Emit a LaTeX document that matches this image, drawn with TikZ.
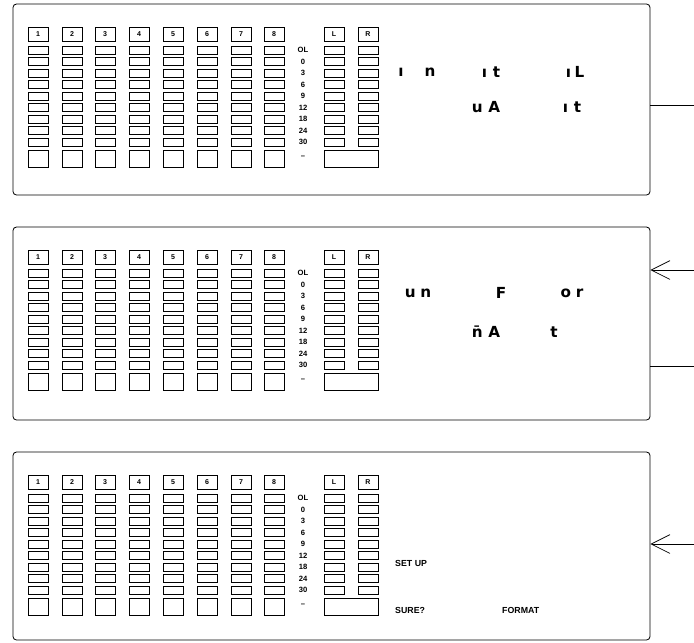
\documentclass[tikz,border=0pt]{standalone}
\usepackage{fontspec}
\setmainfont{Liberation Sans}
\newfontfamily\lcdfont{DejaVu Sans}
\usetikzlibrary{arrows.meta, positioning, calc}

% one meter bank: channels 1-8, scale, L/R
\newcommand{\meterbank}[1]{%
  \foreach \ch/\xl in {1/28, 2/62, 3/95, 4/129, 5/163, 6/197, 7/231, 8/264, L/324, R/358} {
    \node[hdr] (#1h\ch) at (\xl+10, 34) {\ch};
    \foreach \i in {0,...,8}
      \draw[seg] (\xl, 46+11.5*\i) rectangle ++(20, 8);
  }
  \foreach \xl in {28, 62, 95, 129, 163, 197, 231, 264}
    \draw[seg] (\xl, 150) rectangle ++(20, 17);
  \draw[seg] (324, 150) rectangle (378, 167);
  \foreach \lab [count=\i from 0] in {OL,0,3,6,9,12,18,24,30}
    \node[scalelab] (#1s\i) at (303, 50+11.5*\i) {\lab};
  \node[scalelab] (#1sdash) at (303, 157) {--};
}

\begin{document}
\begin{tikzpicture}[x=0.03cm, y=-0.03cm,
    panel/.style={rectangle, draw, rounded corners=3pt, line width=0.7pt, minimum width=19.11cm, inner sep=0pt},
    hdr/.style={rectangle, draw, line width=0.8pt, minimum width=0.6cm, minimum height=0.42cm, inner sep=0pt, font=\fontsize{6}{6}\selectfont\bfseries},
    seg/.style={draw, line width=0.75pt},
    scalelab/.style={inner sep=0pt, font=\fontsize{6.5}{6.5}\selectfont\bfseries},
    lcd/.style={inner sep=0pt, font=\lcdfont\fontsize{13}{13}\selectfont\bfseries},
    msg/.style={inner sep=0pt, anchor=west, font=\fontsize{7.5}{7.5}\selectfont\bfseries},
    link/.style={line width=0.6pt},
    arrow/.style={-{Straight Barb[length=16pt, width=16pt, line width=0.6pt]}, line width=0.6pt}
]
\useasboundingbox (0,0) rectangle (694,643);

% Panels
\node[panel, minimum height=5.73cm] (initpanel) at (331.5, 99.5) {};
\node[panel, minimum height=5.79cm] (fmtpanel) at (331.5, 323.5) {};
\node[panel, minimum height=5.64cm] (surepanel) at (331.5, 546) {};

% Meters
\meterbank{a}
\begin{scope}[shift={(0,223)}]
  \meterbank{b}
\end{scope}
\begin{scope}[shift={(0,448)}]
  \meterbank{c}
\end{scope}

% Display texts
\node[lcd] (inA) at (417, 72) {ı\hspace{18pt}n};
\node[lcd] (itA) at (491, 72) {ı\hspace{5pt}t};
\node[lcd] (ilA) at (575, 72) {ı\hspace{3pt}L};
\node[lcd] (uaA) at (486, 107) {u\hspace{5pt}A};
\node[lcd] (itB) at (572, 107) {ı\hspace{5pt}t};

\node[lcd] (unC) at (418, 293) {u\hspace{4pt}n};
\node[lcd] (fC) at (501, 293) {F};
\node[lcd] (orC) at (572, 293) {o\hspace{4pt}r};
\node[lcd] (maC) at (486, 332) {\=n\hspace{5pt}A};
\node[lcd] (tC) at (554, 332) {t};

\node[msg] (setup) at (395, 563) {SET UP};
\node[msg] (sure) at (395, 610) {SURE?};
\node[msg] (format) at (502, 610) {FORMAT};

% Connectors
\coordinate (exitA) at (694, 105);
\coordinate (entryB) at (694, 270);
\coordinate (exitB) at (694, 366);
\coordinate (entryC) at (694, 544);
\draw[link] (initpanel.east |- exitA) -- (exitA);
\draw[arrow] (entryB) -- (fmtpanel.east |- entryB);
\draw[link] (fmtpanel.east |- exitB) -- (exitB);
\draw[arrow] (entryC) -- (surepanel.east |- entryC);

\end{tikzpicture}
\end{document}
